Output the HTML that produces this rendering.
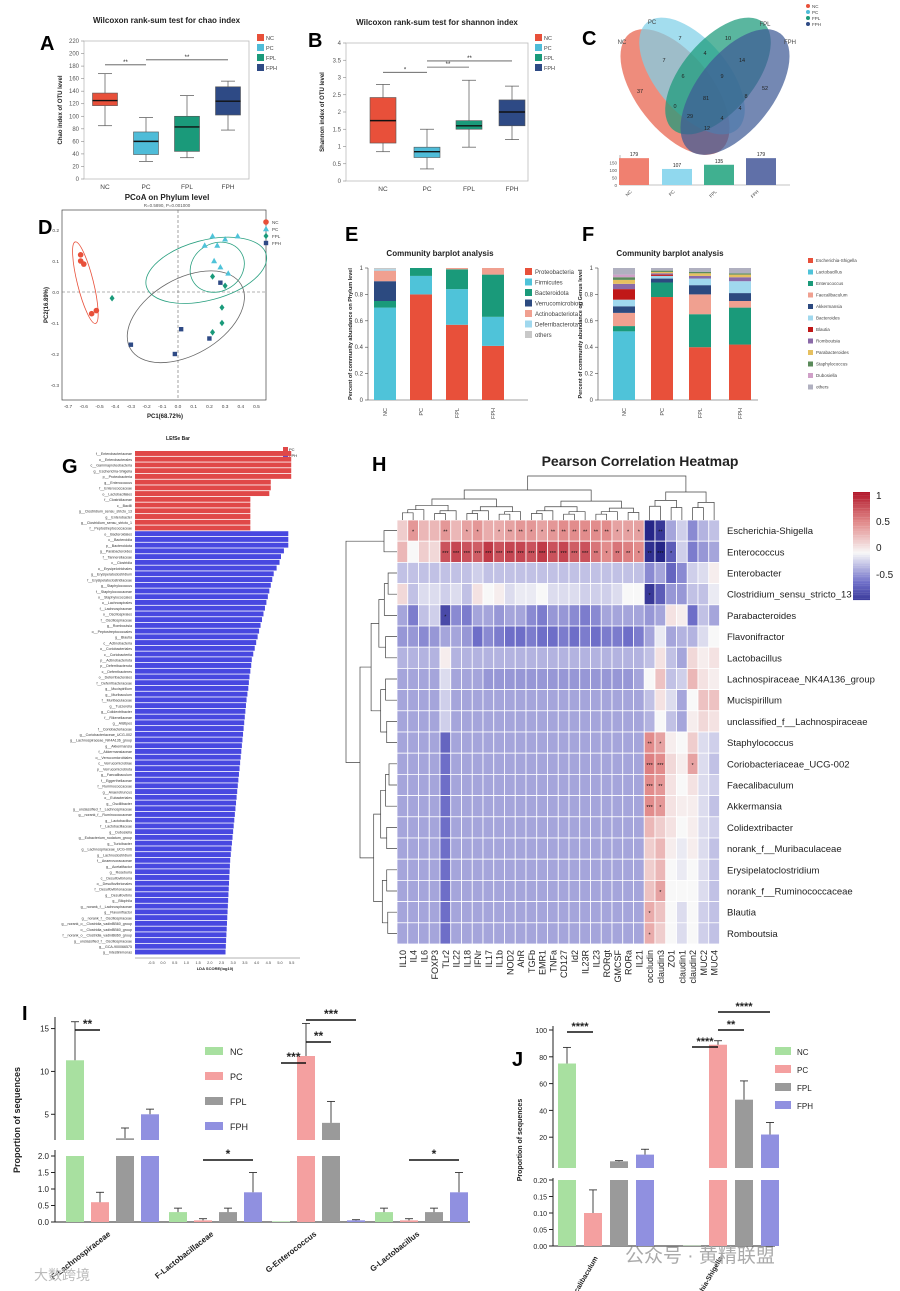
<!DOCTYPE html>
<html><head><meta charset="utf-8">
<style>body{margin:0;background:#fff}svg{display:block}</style>
</head><body>
<svg id="fig" width="900" height="1291" viewBox="0 0 900 1291" xmlns="http://www.w3.org/2000/svg" font-family="Liberation Sans, Noto Sans CJK SC, sans-serif"></svg>
<script>
/* ---------------- DATA ---------------- */
const groups=['NC','PC','FPL','FPH'];
const chaoMin=[85,28,34,78], chaoQ1=[117,39,44,102], chaoMed=[125,60,83,124], chaoQ3=[137,75,100,147], chaoMax=[168,98,133,156];
const chaoTicks=[0,20,40,60,80,100,120,140,160,180,200,220];
const shanMin=[0.85,0.35,0.98,1.2], shanQ1=[1.1,0.68,1.5,1.6], shanMed=[1.75,0.85,1.6,2.0], shanQ3=[2.42,0.98,1.75,2.35], shanMax=[2.8,1.5,2.92,2.75];
const shanTicks=[0,0.5,1,1.5,2,2.5,3,3.5,4];
const vennTotals=[179,107,135,179];
const pcoaNCx=[-0.62,-0.62,-0.60,-0.55,-0.52], pcoaNCy=[0.10,0.12,0.09,-0.07,-0.06];
const pcoaPCx=[0.17,0.22,0.25,0.30,0.38,0.23,0.27,0.32], pcoaPCy=[0.15,0.18,0.15,0.17,0.18,0.10,0.08,0.06];
const pcoaFPLx=[-0.42,0.22,0.30,0.28,0.22,0.28], pcoaFPLy=[-0.02,0.05,0.02,-0.05,-0.13,-0.10];
const pcoaFPHx=[-0.30,-0.02,0.02,0.20,0.27], pcoaFPHy=[-0.17,-0.20,-0.12,-0.15,0.03];
const phyla=['Proteobacteria','Firmicutes','Bacteroidota','Verrucomicrobiota','Actinobacteriota','Deferribacterota','others'];
const phylumNC=[0.0,0.70,0.05,0.15,0.08,0.01,0.01];
const phylumPC=[0.80,0.14,0.06,0,0,0,0];
const phylumFPL=[0.57,0.27,0.15,0,0.01,0,0];
const phylumFPH=[0.41,0.22,0.32,0,0.05,0,0];
const genera=['Escherichia-Shigella','Lactobacillus','Enterococcus','Faecalibaculum','Akkermansia','Bacteroides','Blautia','Romboutsia','Parabacteroides','Staphylococcus','Dubosiella','others'];
const genusNC=[0.0,0.52,0.04,0.10,0.05,0.05,0.08,0.04,0.03,0.02,0.02,0.05];
const genusPC=[0.78,0.0,0.11,0.0,0.03,0.02,0.01,0.01,0.01,0.01,0.0,0.02];
const genusFPL=[0.40,0.0,0.25,0.15,0.07,0.05,0.0,0.02,0.02,0.01,0.0,0.03];
const genusFPH=[0.42,0.0,0.28,0.05,0.06,0.09,0.0,0.03,0.02,0.01,0.0,0.04];
const lefseRedNames=['f__Enterobacteriaceae','o__Enterobacterales','c__Gammaproteobacteria','g__Escherichia-Shigella','p__Proteobacteria','g__Enterococcus','f__Enterococcaceae','o__Lactobacillales','f__Clostridiaceae','c__Bacilli','g__Clostridium_sensu_stricto_13','g__Enterobacter','g__Clostridium_sensu_stricto_1','f__Peptostreptococcaceae'];
const lefseRedVals=[5.35,5.35,5.35,5.35,5.35,4.65,4.65,4.6,3.95,3.95,3.95,3.95,3.95,3.95];
const lefseBlueNames=['o__Bacteroidales','c__Bacteroidia','p__Bacteroidota','g__Parabacteroides','f__Tannerellaceae','c__Clostridia','o__Erysipelotrichales','g__Erysipelatoclostridium','f__Erysipelatoclostridiaceae','g__Staphylococcus','f__Staphylococcaceae','o__Staphylococcales','o__Lachnospirales','f__Lachnospiraceae','o__Oscillospirales','f__Oscillospiraceae','g__Romboutsia','o__Peptostreptococcales','g__Blautia','c__Actinobacteria','o__Coriobacteriales','c__Coriobacteriia','p__Actinobacteriota','p__Deferribacterota','c__Deferribacteres','o__Deferribacterales','f__Deferribacteraceae','g__Mucispirillum','g__Muribaculum','f__Muribaculaceae','g__Tuzzerella','g__Colidextribacter','f__Rikenellaceae','g__Alistipes','f__Coriobacteriaceae','g__Coriobacteriaceae_UCG-002','g__Lachnospiraceae_NK4A136_group','g__Akkermansia','f__Akkermansiaceae','o__Verrucomicrobiales','c__Verrucomicrobiae','p__Verrucomicrobiota','g__Faecalibaculum','f__Eggerthellaceae','f__Ruminococcaceae','g__Anaerotruncus','o__Eubacteriales','g__Oscillibacter','g__unclassified_f__Lachnospiraceae','g__norank_f__Ruminococcaceae','g__Lactobacillus','f__Lactobacillaceae','g__Dubosiella','g__Eubacterium_nodatum_group','g__Turicibacter','g__Lachnospiraceae_UCG-006','g__Lachnoclostridium','f__Anaerovoracaceae','g__Acetatifactor','g__Roseburia','c__Desulfovibrionia','o__Desulfovibrionales','f__Desulfovibrionaceae','g__Desulfovibrio','g__Bilophila','g__norank_f__Lachnospiraceae','g__Flavonifractor','g__norank_f__Oscillospiraceae','g__norank_o__Clostridia_vadinBB60_group','o__Clostridia_vadinBB60_group','f__norank_o__Clostridia_vadinBB60_group','g__unclassified_f__Oscillospiraceae','g__GCA-900066575','g__Intestinimonas'];
const lefseBlueVals=[5.25,5.25,5.25,5.1,5.0,4.95,4.85,4.75,4.7,4.65,4.6,4.55,4.5,4.45,4.4,4.35,4.3,4.25,4.2,4.15,4.1,4.05,4.0,3.98,3.95,3.92,3.9,3.88,3.85,3.82,3.8,3.78,3.76,3.74,3.72,3.7,3.68,3.66,3.64,3.62,3.6,3.58,3.56,3.54,3.52,3.5,3.48,3.46,3.44,3.42,3.4,3.38,3.36,3.34,3.32,3.3,3.28,3.26,3.25,3.24,3.23,3.22,3.21,3.2,3.19,3.18,3.17,3.16,3.15,3.14,3.13,3.12,3.11,3.1];
const lefseTicks=[-0.5,0,0.5,1,1.5,2,2.5,3,3.5,4,4.5,5,5.5];
const hmCols=['IL10','IL4','IL6','FOXP3','TLr2','IL22','IL18','IFNr','IL17','IL1b','NOD2','AhR','TGFb','EMR1','TNFa','CD127','Id2','IL23R','IL23','RORgt','GMCSF','RORa','IL21','occludin','claudin3','ZO1','claudin1','claudin2','MUC2','MUC4'];
const hmRows=['Escherichia-Shigella','Enterococcus','Enterobacter','Clostridium_sensu_stricto_13','Parabacteroides','Flavonifractor','Lactobacillus','Lachnospiraceae_NK4A136_group','Mucispirillum','unclassified_f__Lachnospiraceae','Staphylococcus','Coriobacteriaceae_UCG-002','Faecalibaculum','Akkermansia','Colidextribacter','norank_f__Muribaculaceae','Erysipelatoclostridium','norank_f__Ruminococcaceae','Blautia','Romboutsia'];
const hmVals=[
[.2,.45,.3,.3,.45,.3,.4,.45,.35,.35,.4,.45,.45,.4,.45,.5,.5,.5,.5,.5,.4,.4,.4,-.9,-.8,-.3,-.15,-.4,-.25,-.2],
[.3,0,.2,.15,.75,.8,.75,.7,.85,.75,.8,.8,.75,.85,.75,.8,.7,.75,.6,.5,.6,.55,.5,-.85,-.9,-.6,-.15,-.45,-.35,-.3],
[-.2,-.2,-.2,-.2,-.2,-.2,-.2,-.15,-.2,-.2,-.2,-.2,-.2,-.2,-.2,-.2,-.2,-.2,-.2,-.2,-.2,-.2,-.2,-.4,-.3,-.55,-.4,-.15,-.1,.05],
[.15,-.2,-.1,-.1,-.15,-.1,-.2,.1,0,.05,-.1,-.05,-.05,0,-.1,-.1,-.1,-.15,-.15,-.15,-.1,0,0,-.8,-.6,-.35,-.35,-.2,-.2,-.05],
[-.3,-.45,-.2,-.15,-.7,-.4,-.45,-.3,-.3,-.35,-.3,-.3,-.4,-.45,-.35,-.35,-.4,-.45,-.4,-.3,-.3,-.3,-.3,-.35,-.3,.1,.05,-.5,-.2,-.3],
[-.35,-.35,-.4,-.35,-.3,-.3,-.35,-.5,-.4,-.45,-.5,-.5,-.45,-.5,-.5,-.45,-.5,-.45,-.5,-.45,-.45,-.5,-.45,-.3,-.05,-.3,-.25,-.25,-.1,0],
[-.25,-.25,-.25,-.25,.05,-.25,-.25,-.25,-.25,-.25,-.25,-.25,-.25,-.25,-.25,-.25,-.25,-.25,-.25,-.25,-.25,-.25,-.25,-.2,.1,-.2,-.3,.15,.05,.1],
[-.3,-.3,-.3,-.3,-.1,-.3,-.3,-.3,-.35,-.35,-.35,-.35,-.35,-.35,-.35,-.35,-.35,-.35,-.35,-.35,-.35,-.35,-.3,0,.25,-.2,-.15,.3,.1,.05],
[-.3,-.3,-.3,-.3,-.15,-.3,-.3,-.3,-.3,-.3,-.3,-.3,-.3,-.3,-.3,-.3,-.3,-.3,-.3,-.3,-.3,-.3,-.3,-.2,.1,-.1,-.3,0,.25,.25],
[-.3,-.3,-.3,-.3,-.15,-.3,-.3,-.3,-.3,-.3,-.3,-.3,-.3,-.3,-.3,-.3,-.3,-.3,-.3,-.3,-.3,-.3,-.3,-.25,0,-.2,-.3,.05,.15,.1],
[-.3,-.3,-.3,-.3,-.55,-.3,-.3,-.3,-.3,-.3,-.3,-.3,-.3,-.3,-.3,-.3,-.3,-.3,-.3,-.3,-.3,-.3,-.3,.5,.4,.05,0,.2,-.1,-.15],
[-.3,-.3,-.3,-.3,-.5,-.3,-.3,-.3,-.3,-.3,-.3,-.3,-.3,-.3,-.3,-.3,-.3,-.3,-.3,-.3,-.3,-.3,-.3,.55,.5,.15,.05,.4,-.1,-.2],
[-.3,-.3,-.3,-.3,-.5,-.3,-.3,-.3,-.3,-.3,-.3,-.3,-.3,-.3,-.3,-.3,-.3,-.3,-.3,-.3,-.3,-.3,-.3,.5,.45,.1,0,.1,-.1,-.15],
[-.3,-.3,-.3,-.3,-.5,-.3,-.3,-.3,-.3,-.3,-.3,-.3,-.3,-.3,-.3,-.3,-.3,-.3,-.3,-.3,-.3,-.3,-.3,.5,.45,.1,.05,.05,-.1,-.2],
[-.3,-.3,-.3,-.3,-.5,-.3,-.3,-.3,-.3,-.3,-.3,-.3,-.3,-.3,-.3,-.3,-.3,-.3,-.3,-.3,-.3,-.3,-.3,.3,.2,.1,0,.05,-.1,-.15],
[-.3,-.3,-.3,-.3,-.5,-.3,-.3,-.3,-.3,-.3,-.3,-.3,-.3,-.3,-.3,-.3,-.3,-.3,-.3,-.3,-.3,-.3,-.3,.2,.3,.05,-.05,.05,-.1,-.2],
[-.3,-.3,-.3,-.3,-.5,-.3,-.3,-.3,-.3,-.3,-.3,-.3,-.3,-.3,-.3,-.3,-.3,-.3,-.3,-.3,-.3,-.3,-.3,.2,.3,0,-.05,0,-.1,-.2],
[-.3,-.3,-.3,-.3,-.5,-.3,-.3,-.3,-.3,-.3,-.3,-.3,-.3,-.3,-.3,-.3,-.3,-.3,-.3,-.3,-.3,-.3,-.3,.25,.4,0,0,0,-.1,-.2],
[-.3,-.3,-.3,-.3,-.5,-.3,-.3,-.3,-.3,-.3,-.3,-.3,-.3,-.3,-.3,-.3,-.3,-.3,-.3,-.3,-.3,-.3,-.3,.35,.25,0,-.1,0,-.15,-.2],
[-.3,-.3,-.3,-.3,-.5,-.3,-.3,-.3,-.3,-.3,-.3,-.3,-.3,-.3,-.3,-.3,-.3,-.3,-.3,-.3,-.3,-.3,-.3,.35,.2,0,-.1,0,-.15,-.2]];
const hmStars=[[0,1,'*'],[0,4,'**'],[0,6,'*'],[0,7,'*'],[0,9,'*'],[0,10,'**'],[0,11,'**'],[0,12,'*'],[0,13,'*'],[0,14,'**'],[0,15,'**'],[0,16,'**'],[0,17,'**'],[0,18,'**'],[0,19,'**'],[0,20,'*'],[0,21,'*'],[0,22,'*'],[0,24,'**'],
[1,4,'***'],[1,5,'***'],[1,6,'***'],[1,7,'***'],[1,8,'***'],[1,9,'***'],[1,10,'***'],[1,11,'***'],[1,12,'***'],[1,13,'***'],[1,14,'***'],[1,15,'***'],[1,16,'***'],[1,17,'***'],[1,18,'**'],[1,19,'*'],[1,20,'**'],[1,21,'**'],[1,22,'*'],[1,23,'**'],[1,24,'***'],[1,25,'*'],
[3,23,'*'],[4,4,'*'],[10,23,'**'],[10,24,'*'],[11,23,'***'],[11,24,'***'],[11,27,'*'],[12,23,'***'],[12,24,'**'],[13,23,'***'],[13,24,'*'],[17,24,'*'],[18,23,'*'],[19,23,'*']];
const iGroups=['F-Lachnospiraceae','F-Lactobacillaceae','G-Enterococcus','G-Lactobacillus'];
const iNC=[11.3,0.3,0.02,0.3], iPC=[0.6,0.05,11.8,0.05], iFPL=[2.2,0.3,4.0,0.3], iFPH=[5.0,0.9,0.05,0.9];
const iNCerr=[4.5,0.12,0,0.12], iPCerr=[0.3,0.05,3.8,0.05], iFPLerr=[1.2,0.12,2.5,0.12], iFPHerr=[0.6,0.6,0.02,0.6];
const iLowTicks=[0,0.5,1.0,1.5,2.0], iHighTicks=[5,10,15];
const jGroups=['G-Faecalibaculum','G-Escherichia-Shigella'];
const jNC=[75,0.001], jPC=[0.10,89], jFPL=[2,48], jFPH=[7,22];
const jNCerr=[12,0], jPCerr=[0.07,3], jFPLerr=[0.5,14], jFPHerr=[4,9];
const jLowTicks=[0,0.05,0.10,0.15,0.20], jHighTicks=[20,40,60,80,100];

/* ---------------- HELPERS ---------------- */
const NS='http://www.w3.org/2000/svg';
const svg=document.getElementById('fig');
function mk(tag,a,p){const e=document.createElementNS(NS,tag);for(const k in a)e.setAttribute(k,a[k]);(p||svg).appendChild(e);return e;}
function tx(x,y,s,size,opt,p){const e=mk('text',Object.assign({x:x,y:y,'font-size':size,fill:'#222'},opt||{}),p);


e.textContent=s;return e;}
function grp(name){const g=mk('g',{});


return g;}
function ln(x1,y1,x2,y2,st,w,p){const e=mk('line',{x1:x1,y1:y1,x2:x2,y2:y2,stroke:st,'stroke-width':w},p);


return e;}
const gcol=['#e8503a','#4fbcd8','#1a9a7a','#2e4a85'];

/* panel letters */
const letters=grp('panel-letters');
[['A',40,50],['B',308,47],['C',582,45],['D',38,234],['E',345,241],['F',582,241],['G',62,473],['H',372,471],['I',22,1020],['J',512,1066]].forEach(l=>tx(l[1],l[2],l[0],20,{'font-weight':'bold',fill:'#000'},letters));

/* ---------------- BOX PANELS ---------------- */
function boxPanel(name,x0,x1,y0,y1,vmax,ticks,mins,q1,med,q3,maxs,xs,bw,sig,title,ytitle,legX,legY){
  const g=grp(name);
  const y=v=>y1-(v/vmax)*(y1-y0);
  tx((x0+x1)/2,y0-18,title,8,{'font-weight':'bold','text-anchor':'middle'},g);
  const fr=mk('rect',{x:x0,y:y0,width:x1-x0,height:y1-y0,fill:'none',stroke:'#bbb','stroke-width':0.8},g);
  
  
  ticks.forEach(t=>{ln(x0-3,y(t),x0,y(t),'#888',0.6,g);tx(x0-5,y(t)+2,String(t),6,{'text-anchor':'end',fill:'#555'},g);});
  tx(x0-22,(y0+y1)/2,ytitle,6,{'font-weight':'bold','text-anchor':'middle',transform:`rotate(-90 ${x0-22} ${(y0+y1)/2})`},g);
  groups.forEach((gn,i)=>{
    const cx=xs[i];
    ln(cx,y(maxs[i]),cx,y(q3[i]),'#666',0.8,g);ln(cx,y(q1[i]),cx,y(mins[i]),'#666',0.8,g);
    ln(cx-7,y(maxs[i]),cx+7,y(maxs[i]),'#666',0.8,g);ln(cx-7,y(mins[i]),cx+7,y(mins[i]),'#666',0.8,g);
    const b=mk('rect',{x:cx-bw/2,y:y(q3[i]),width:bw,height:y(q1[i])-y(q3[i]),fill:gcol[i],stroke:'#555','stroke-width':0.6},g);
    
    
    const m=ln(cx-bw/2,y(med[i]),cx+bw/2,y(med[i]),'#111',1.4,g);
    
    tx(cx,y1+10,gn,6.5,{'text-anchor':'middle',fill:'#444'},g);
    mk('rect',{x:legX,y:legY+i*10,width:7,height:7,fill:gcol[i]},g);
    tx(legX+9,legY+i*10+6,gn,5.5,{fill:'#444'},g);
  });
  sig.forEach(s=>{const l=ln(xs[s[0]],y(s[2]),xs[s[1]],y(s[2]),'#555',0.8,g);tx((xs[s[0]]+xs[s[1]])/2,y(s[2])-1,s[3],6,{'text-anchor':'middle'},g);});
  return g;
}
boxPanel('panel-a-chao',84,249,41,179,220,chaoTicks,chaoMin,chaoQ1,chaoMed,chaoQ3,chaoMax,[105,146,187,228],25,[[0,1,182,'**'],[1,3,190,'**']],'Wilcoxon rank-sum test for chao index','Chao index of OTU level',257,34);
boxPanel('panel-b-shannon',346,528,43,181,4,shanTicks,shanMin,shanQ1,shanMed,shanQ3,shanMax,[383,427,469,512],26,[[0,1,3.15,'*'],[1,2,3.3,'**'],[1,3,3.48,'**']],'Wilcoxon rank-sum test for shannon index','Shannon index of OTU level',535,34);

/* ---------------- VENN C ---------------- */
(function(){
  const g=grp('panel-c-venn');
  const ells=[[675,92,38,74,-38,'#e8604a'],[692,76,36,70,-40,'#7fd0e8'],[718,76,36,70,40,'#1a9a7a'],[735,92,38,74,38,'#3f5a95']];
  ells.forEach((e,i)=>{const el=mk('ellipse',{cx:e[0],cy:e[1],rx:e[2],ry:e[3],transform:`rotate(${e[4]} ${e[0]} ${e[1]})`,fill:e[5],'fill-opacity':0.72},g);
    
    });
  [['37',640,93],['7',680,40],['10',728,40],['52',765,90],['7',664,62],['4',705,55],['14',742,62],['6',683,78],['9',722,78],['81',706,100],['8',746,98],['4',740,110],['29',690,118],['4',722,120],['12',707,130],['0',675,108]].forEach(t=>tx(t[1],t[2],t[0],5.5,{'text-anchor':'middle',fill:'#222'},g));
  [['NC',622,44],['PC',652,24],['FPL',765,26],['FPH',790,44]].forEach(t=>tx(t[1],t[2],t[0],6,{'text-anchor':'middle',fill:'#444'},g));
  groups.forEach((gn,i)=>{mk('circle',{cx:808,cy:6+i*6,r:2,fill:gcol[i]},g);tx(812,8+i*6,gn,4.5,{fill:'#444'},g);});
  const yb=v=>185-v/200*30;
  ln(620,155,620,185,'#888',0.6,g);ln(620,185,790,185,'#888',0.6,g);
  [0,50,100,150].forEach(t=>tx(617,yb(t)+2,String(t),4.5,{'text-anchor':'end',fill:'#555'},g));
  const bc=['#f08070','#90d8ee','#40b090','#6070a8'];
  const bx=[634,677,719,761];
  vennTotals.forEach((v,i)=>{const r=mk('rect',{x:bx[i]-15,y:yb(v),width:30,height:185-yb(v),fill:bc[i]},g);
    
    
    tx(bx[i],yb(v)-2,String(v),5,{'text-anchor':'middle'},g);
    tx(bx[i]-2,192,groups[i],4.5,{transform:`rotate(-45 ${bx[i]-2} 192)`,'text-anchor':'end',fill:'#444'},g);});
})();

/* ---------------- PCoA D ---------------- */
(function(){
  const g=grp('panel-d-pcoa');
  const xD=v=>178+v*157, yD=v=>292-v*310;
  tx(167,200,'PCoA on Phylum level',8,{'font-weight':'bold','text-anchor':'middle'},g);
  tx(167,207,'R=0.5890, P=0.001000',4.5,{'text-anchor':'middle',fill:'#555'},g);
  const fr=mk('rect',{x:62,y:210,width:204,height:190,fill:'none',stroke:'#444','stroke-width':0.7},g);
  
  [-0.7,-0.6,-0.5,-0.4,-0.3,-0.2,-0.1,0,0.1,0.2,0.3,0.4,0.5].forEach(t=>tx(xD(t),408,t.toFixed(1),4.8,{'text-anchor':'middle',fill:'#444'},g));
  [0.2,0.1,0,-0.1,-0.2,-0.3].forEach(t=>tx(59,yD(t)+2,t.toFixed(1),4.8,{'text-anchor':'end',fill:'#444'},g));
  mk('line',{x1:62,y1:yD(0),x2:266,y2:yD(0),stroke:'#666','stroke-dasharray':'3,2','stroke-width':0.6},g);
  mk('line',{x1:xD(0),y1:210,x2:xD(0),y2:400,stroke:'#666','stroke-dasharray':'3,2','stroke-width':0.6},g);
  tx(165,418,'PC1(68.72%)',6,{'font-weight':'bold','text-anchor':'middle'},g);
  tx(48,305,'PC2(16.89%)',6,{'font-weight':'bold','text-anchor':'middle',transform:'rotate(-90 48 305)'},g);
  [[-0.59,0.03,8,42,-14,'#e8503a'],[0.18,0.07,62,30,-15,'#2aa080'],[0.25,0.08,28,24,-30,'#2aa080'],[0.05,-0.08,64,38,-30,'#666']].forEach((e,i)=>{
    const el=mk('ellipse',{cx:xD(e[0]),cy:yD(e[1]),rx:e[2],ry:e[3],transform:`rotate(${e[4]} ${xD(e[0])} ${yD(e[1])})`,fill:'none',stroke:e[5],'stroke-width':0.8},g);
    
    });
  function pt(x,y,k){let e;
    if(k==0)e=mk('circle',{cx:x,cy:y,r:2.8,fill:gcol[0]},g);
    else if(k==1)e=mk('polygon',{points:`${x},${y-3.2} ${x-3},${y+2.2} ${x+3},${y+2.2}`,fill:'#4fc3d9'},g);
    else if(k==2)e=mk('polygon',{points:`${x},${y-3.3} ${x-2.5},${y} ${x},${y+3.3} ${x+2.5},${y}`,fill:gcol[2]},g);
    else e=mk('rect',{x:x-2.2,y:y-2.2,width:4.4,height:4.4,fill:gcol[3]},g);
    
    }
  pcoaNCx.forEach((v,i)=>pt(xD(v),yD(pcoaNCy[i]),0));
  pcoaPCx.forEach((v,i)=>pt(xD(v),yD(pcoaPCy[i]),1));
  pcoaFPLx.forEach((v,i)=>pt(xD(v),yD(pcoaFPLy[i]),2));
  pcoaFPHx.forEach((v,i)=>pt(xD(v),yD(pcoaFPHy[i]),3));
  groups.forEach((gn,i)=>{pt(266,222+i*7,i);tx(272,224+i*7,gn,4.5,{fill:'#444'},g);});
})();

/* ---------------- STACKED BARS E, F ---------------- */
function stacked(name,ax,xs,series,cats,colors,title,ytitle,legX,legY,legStep,legFont,sw){
  const g=grp(name);
  const y=v=>400-v*132;
  tx(440+(ax-368),256,title,8,{'font-weight':'bold','text-anchor':'middle'},g);
  ln(ax,268,ax,400,'#444',0.6,g);ln(ax,400,ax+160,400,'#444',0.6,g);
  [0,0.2,0.4,0.6,0.8,1].forEach(t=>{ln(ax-3,y(t),ax,y(t),'#444',0.6,g);tx(ax-5,y(t)+2,t==0||t==1?String(t):t.toFixed(1),6,{'text-anchor':'end',fill:'#444'},g);});
  tx(ax-16,334,ytitle,5.5,{'font-weight':'bold','text-anchor':'middle',transform:`rotate(-90 ${ax-16} 334)`},g);
  series.forEach((s,i)=>{let acc=0;
    s.forEach((v,k)=>{if(v<=0)return;const r=mk('rect',{x:xs[i]-11,y:y(acc+v),width:22,height:v*132,fill:colors[k]},g);
      
      
      acc+=v;});
    tx(xs[i]+2,408,groups[i],5.5,{'text-anchor':'end',transform:`rotate(-90 ${xs[i]+2} 408)`,fill:'#444'},g);});
  cats.forEach((c,k)=>{const r=mk('rect',{x:legX,y:legY+k*legStep,width:sw,height:sw,fill:colors[k]},g);
    
    tx(legX+sw+3,legY+k*legStep+sw-1,c,legFont,{fill:'#444'},g);});
}
stacked('panel-e-phylum',368,[385,421,457,493],[phylumNC,phylumPC,phylumFPL,phylumFPH],phyla,['#e8503a','#4fc3d9','#1a9a7a','#2c4a80','#f0a090','#a0d8ee','#c8c8c8'],'Community barplot analysis','Percent of community abundance on Phylum level',525,268,10.5,6,7);
stacked('panel-f-genus',598,[624,662,700,740],[genusNC,genusPC,genusFPL,genusFPH],genera,['#e8503a','#4fc3d9','#1a9a7a','#f0a090','#2c4a80','#a0d8ee','#c01818','#8a6aa8','#e6c060','#5a8a5a','#d0a0c8','#b0b0c0'],'Community barplot analysis','Percent of community abundance on Genus level',808,258,11.5,4.5,5);

/* ---------------- LEfSe G ---------------- */
(function(){
  const g=grp('panel-g-lefse');
  const step=5.73, x0=135, sc=29.2;
  tx(178,440,'LEfSe Bar',5,{'font-weight':'bold','text-anchor':'middle'},g);
  mk('rect',{x:283,y:447,width:5,height:4,fill:'#e04848'},g);
  tx(289,451,'PC',4,{},g);
  mk('rect',{x:283,y:453,width:5,height:4,fill:'#4848e0'},g);
  tx(289,457,'FPH',4,{},g);
  const names=lefseRedNames.concat(lefseBlueNames), vals=lefseRedVals.concat(lefseBlueVals);
  names.forEach((n,i)=>{const red=i<lefseRedNames.length;const yy=451+i*step;
    const r=mk('rect',{x:x0,y:yy,width:vals[i]*sc,height:step-0.8,fill:red?'#e04848':'#4848e0'},g);
    
    
    tx(x0-3,yy+step-1.5,n,3.6,{'text-anchor':'end',fill:'#333'},g);});
  ln(135,958,300,958,'#666',0.5,g);
  lefseTicks.forEach(t=>tx(163+t*23.4,964,t.toFixed(1),3.8,{'text-anchor':'middle',fill:'#444'},g));
  tx(215,970,'LDA SCORE(log10)',4,{'font-weight':'bold','text-anchor':'middle'},g);
})();

/* ---------------- HEATMAP H ---------------- */
(function(){
  const g=grp('panel-h-heatmap');
  const cx0=397, cw=10.75, cy0=520, ch=21.2;
  tx(640,466,'Pearson Correlation Heatmap',14,{'font-weight':'bold','text-anchor':'middle'},g);
  function lerp(a,b,t){return a.map((v,i)=>Math.round(v+(b[i]-v)*t));}
  const stops=[[-1,[20,20,120]],[-0.5,[110,110,200]],[0,[248,248,248]],[0.5,[226,140,140]],[1,[178,24,43]]];
  function col(v){v=Math.max(-1,Math.min(1,v));for(let i=0;i<stops.length-1;i++){if(v<=stops[i+1][0]){const t=(v-stops[i][0])/(stops[i+1][0]-stops[i][0]);const c=lerp(stops[i][1],stops[i+1][1],t);return `rgb(${c[0]},${c[1]},${c[2]})`;}}return 'rgb(178,24,43)';}
  hmVals.forEach((row,r)=>row.forEach((v,c)=>{const e=mk('rect',{x:cx0+c*cw,y:cy0+r*ch,width:cw,height:ch,fill:col(v),stroke:'#fff','stroke-width':0.8},g);
    
    }));
  hmStars.forEach(s=>tx(cx0+s[1]*cw+cw/2,cy0+s[0]*ch+ch/2+3,s[2],5.5,{'text-anchor':'middle',fill:'#111'},g));
  hmRows.forEach((n,r)=>tx(727,cy0+r*ch+ch/2+3.5,n,9.5,{fill:'#222'},g));
  hmCols.forEach((n,c)=>{const x=cx0+c*cw+cw/2+3.5;tx(x,950,n,9,{'text-anchor':'end',transform:`rotate(-90 ${x} 950)`,fill:'#222'},g);});
  /* column dendrogram */
  function dend(a,b,top,horizontal){
    if(a===b)return {pos:a,h:horizontal?cy0:cx0};
    const m=Math.floor((a+b)/2);
    const base=horizontal?cy0:cx0;
    const ch2=top+(base-top)*0.3;
    const L=dend(a,m,ch2,horizontal), R=dend(m+1,b,ch2+(base-ch2)*0.1,horizontal);
    const p=horizontal?(i=>cx0+i*cw+cw/2):(i=>cy0+i*ch+ch/2);
    const pl=typeof L.pos==='number'&&L.leaf!==false?L:L;
    const x1=L.px!==undefined?L.px:p(L.pos), x2=R.px!==undefined?R.px:p(R.pos);
    const h1=L.h, h2=R.h;
    let d;
    if(horizontal)d=`M${x1},${h1}V${top}H${x2}V${h2}`;else d=`M${h1},${x1}H${top}V${x2}H${h2}`;
    const e=mk('path',{d:d,fill:'none',stroke:'#444','stroke-width':0.7},g);
    
    
    return {px:(x1+x2)/2,h:top};
  }
  const c1=dend(0,22,490,true), c2=dend(23,29,492,true);
  const tp=mk('path',{d:`M${c1.px},${c1.h}V476H${c2.px}V${c2.h}`,fill:'none',stroke:'#444','stroke-width':0.7},g);
  
  const r1=dend(0,1,384,false), r2=dend(2,19,360,false);
  const rp=mk('path',{d:`M${r1.h},${r1.px}H346V${r2.px}H${r2.h}`,fill:'none',stroke:'#444','stroke-width':0.7},g);
  
  /* colorbar */
  for(let i=0;i<60;i++){const v=1-i*(1.8/60);const e=mk('rect',{x:853,y:492+i*1.8,width:17,height:1.9,fill:col(v)},g);
    }
  [[1,495],[0.5,521],[0,547],[-0.5,574]].forEach(t=>tx(876,t[1]+4,String(t[0]),10,{fill:'#222'},g));
})();

/* ---------------- BAR PANEL I ---------------- */
const barCols=['#a8e0a0','#f4a0a0','#9a9a9a','#9090e0'];
const barEdge=['#80c080','#e07070','#777','#6a6ac8'];
(function(){
  const g=grp('panel-i-bars');
  const yL=v=>1222-v*33, yH=v=>1140-(v-2)/14*120;
  const brk=2;
  ln(55,1017,55,1140,'#222',1,g);ln(55,1150,55,1222,'#222',1,g);ln(55,1222,470,1222,'#222',1,g);
  iLowTicks.forEach(t=>{ln(51,yL(t),55,yL(t),'#222',1,g);tx(49,yL(t)+3,t.toFixed(1),8,{'text-anchor':'end'},g);});
  iHighTicks.forEach(t=>{ln(51,yH(t),55,yH(t),'#222',1,g);tx(49,yH(t)+3,String(t),8,{'text-anchor':'end'},g);});
  tx(20,1120,'Proportion of sequences',9,{'font-weight':'bold','text-anchor':'middle',transform:'rotate(-90 20 1120)'},g);
  const vals=[iNC,iPC,iFPL,iFPH], errs=[iNCerr,iPCerr,iFPLerr,iFPHerr];
  const bx=(gi,k)=>66+gi*103+k*25;
  iGroups.forEach((gn,gi)=>{
    for(let k=0;k<4;k++){
      const v=vals[k][gi], e=errs[k][gi], x=bx(gi,k);
      const lowTop=v>brk?yL(brk):yL(v);
      const r=mk('rect',{x:x,y:lowTop,width:18,height:1222-lowTop,fill:barCols[k]},g);
      
      
      let topY;
      if(v>brk){const u=mk('rect',{x:x,y:yH(v),width:18,height:1140-yH(v),fill:barCols[k]},g);
        
        
        topY=yH(v+e);}else topY=yL(v+e);
      const by=v>brk?yH(v):yL(v);
      if(e>0){ln(x+9,by,x+9,topY,'#333',0.9,g);ln(x+5,topY,x+13,topY,'#333',0.9,g);}
    }
    const cx=bx(gi,1)+20;
    tx(cx,1235,gn,8,{'font-weight':'bold','text-anchor':'end',transform:`rotate(-38 ${cx} 1235)`},g);
  });
  [[0,0,1,1030,'**'],[1,1,3,1160,'*'],[2,0,1,1063,'***'],[2,1,2,1042,'**'],[2,1,3,1020,'***'],[3,1,3,1160,'*']].forEach(s=>{
    const x1=bx(s[0],s[1])+9,x2=bx(s[0],s[2])+9;const l=ln(x1,s[3],x2,s[3],'#111',1.4,g);
    tx((x1+x2)/2,s[3]-2,s[4],12,{'font-weight':'bold','text-anchor':'middle'},g);});
  groups.forEach((gn,k)=>{const r=mk('rect',{x:205,y:1047+k*25,width:18,height:8,fill:barCols[k]},g);tx(230,1055+k*25,gn,9,{},g);});
})();

/* ---------------- BAR PANEL J ---------------- */
(function(){
  const g=grp('panel-j-bars');
  const yL=v=>1246-v/0.2*66, yH=v=>1164-v*1.34;
  ln(553,1026,553,1168,'#222',1,g);ln(553,1178,553,1246,'#222',1,g);ln(553,1246,775,1246,'#222',1,g);
  jLowTicks.forEach(t=>{ln(549,yL(t),553,yL(t),'#222',1,g);tx(547,yL(t)+3,t.toFixed(2),7,{'text-anchor':'end'},g);});
  jHighTicks.forEach(t=>{ln(549,yH(t),553,yH(t),'#222',1,g);tx(547,yH(t)+3,String(t),7,{'text-anchor':'end'},g);});
  tx(522,1140,'Proportion of sequences',7,{'font-weight':'bold','text-anchor':'middle',transform:'rotate(-90 522 1140)'},g);
  const vals=[jNC,jPC,jFPL,jFPH], errs=[jNCerr,jPCerr,jFPLerr,jFPHerr];
  const bx=(gi,k)=>558+gi*125+k*26;
  jGroups.forEach((gn,gi)=>{
    for(let k=0;k<4;k++){
      const v=vals[k][gi], e=errs[k][gi], x=bx(gi,k);
      const lowTop=v>0.2?yL(0.2):yL(v);
      const r=mk('rect',{x:x,y:lowTop,width:18,height:1246-lowTop,fill:barCols[k]},g);
      
      
      let by,topY;
      if(v>0.2){const u=mk('rect',{x:x,y:yH(v),width:18,height:1168-yH(v),fill:barCols[k]},g);
        
        
        by=yH(v);topY=yH(v+e);}else{by=yL(v);topY=yL(v+e);}
      if(e>0){ln(x+9,by,x+9,topY,'#333',0.9,g);ln(x+5,topY,x+13,topY,'#333',0.9,g);}
    }
    const cx=bx(gi,1)+14;
    tx(cx,1258,gn,7,{'font-weight':'bold','text-anchor':'end',transform:`rotate(-60 ${cx} 1258)`},g);
  });
  [[0,0,1,1032,'****'],[1,0,1,1047,'****'],[1,1,2,1030,'**'],[1,1,3,1012,'****']].forEach(s=>{
    const x1=bx(s[0],s[1])+9,x2=bx(s[0],s[2])+9;const l=ln(x1,s[3],x2,s[3],'#111',1.4,g);
    tx((x1+x2)/2,s[3]-2,s[4],11,{'font-weight':'bold','text-anchor':'middle'},g);});
  groups.forEach((gn,k)=>{const r=mk('rect',{x:775,y:1047+k*18,width:16,height:8,fill:barCols[k]},g);tx(797,1055+k*18,gn,8,{},g);});
})();

/* watermarks */
const wm=grp('watermarks');
tx(625,1262,'公众号 · 黄精联盟',19,{fill:'#aaa'},wm);
tx(34,1280,'大数跨境',14,{fill:'#bbb'},wm);
</script>
</body></html>
